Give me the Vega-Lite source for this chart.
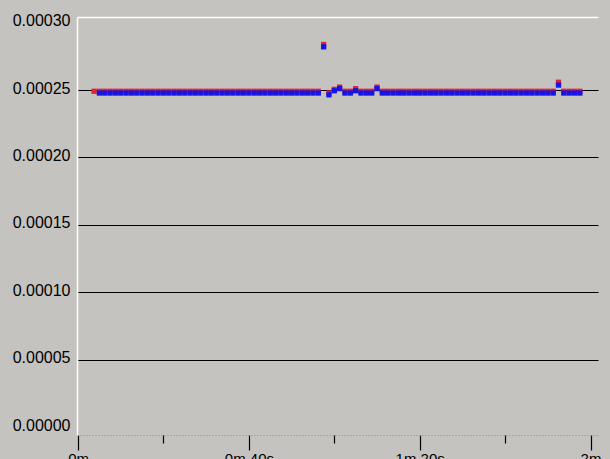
{
  "$schema": "https://vega.github.io/schema/vega-lite/v6.json",
  "width": 521,
  "height": 418,
  "autosize": {"type": "none"},
  "padding": {"left": 77, "top": 17, "right": 12, "bottom": 24},
  "background": "#c4c3bf",
  "config": {"view": {"stroke": null}, "font": "Liberation Sans"},
  "data": {"values": [
    {"t": 3.75, "red": 0.0002491, "blue": null},
    {"t": 5, "red": 0.0002491, "blue": 0.0002478},
    {"t": 6.25, "red": 0.0002491, "blue": 0.0002478},
    {"t": 7.5, "red": 0.0002491, "blue": 0.0002478},
    {"t": 8.75, "red": 0.0002491, "blue": 0.0002478},
    {"t": 10, "red": 0.0002491, "blue": 0.0002478},
    {"t": 11.25, "red": 0.0002491, "blue": 0.0002478},
    {"t": 12.5, "red": 0.0002491, "blue": 0.0002478},
    {"t": 13.75, "red": 0.0002491, "blue": 0.0002478},
    {"t": 15, "red": 0.0002491, "blue": 0.0002478},
    {"t": 16.25, "red": 0.0002491, "blue": 0.0002478},
    {"t": 17.5, "red": 0.0002491, "blue": 0.0002478},
    {"t": 18.75, "red": 0.0002491, "blue": 0.0002478},
    {"t": 20, "red": 0.0002491, "blue": 0.0002478},
    {"t": 21.25, "red": 0.0002491, "blue": 0.0002478},
    {"t": 22.5, "red": 0.0002491, "blue": 0.0002478},
    {"t": 23.75, "red": 0.0002491, "blue": 0.0002478},
    {"t": 25, "red": 0.0002491, "blue": 0.0002478},
    {"t": 26.25, "red": 0.0002491, "blue": 0.0002478},
    {"t": 27.5, "red": 0.0002491, "blue": 0.0002478},
    {"t": 28.75, "red": 0.0002491, "blue": 0.0002478},
    {"t": 30, "red": 0.0002491, "blue": 0.0002478},
    {"t": 31.25, "red": 0.0002491, "blue": 0.0002478},
    {"t": 32.5, "red": 0.0002491, "blue": 0.0002478},
    {"t": 33.75, "red": 0.0002491, "blue": 0.0002478},
    {"t": 35, "red": 0.0002491, "blue": 0.0002478},
    {"t": 36.25, "red": 0.0002491, "blue": 0.0002478},
    {"t": 37.5, "red": 0.0002491, "blue": 0.0002478},
    {"t": 38.75, "red": 0.0002491, "blue": 0.0002478},
    {"t": 40, "red": 0.0002491, "blue": 0.0002478},
    {"t": 41.25, "red": 0.0002491, "blue": 0.0002478},
    {"t": 42.5, "red": 0.0002491, "blue": 0.0002478},
    {"t": 43.75, "red": 0.0002491, "blue": 0.0002478},
    {"t": 45, "red": 0.0002491, "blue": 0.0002478},
    {"t": 46.25, "red": 0.0002491, "blue": 0.0002478},
    {"t": 47.5, "red": 0.0002491, "blue": 0.0002478},
    {"t": 48.75, "red": 0.0002491, "blue": 0.0002478},
    {"t": 50, "red": 0.0002491, "blue": 0.0002478},
    {"t": 51.25, "red": 0.0002491, "blue": 0.0002478},
    {"t": 52.5, "red": 0.0002491, "blue": 0.0002478},
    {"t": 53.75, "red": 0.0002491, "blue": 0.0002478},
    {"t": 55, "red": 0.0002491, "blue": 0.0002478},
    {"t": 56.25, "red": 0.0002491, "blue": 0.0002478},
    {"t": 57.5, "red": 0.0002838, "blue": 0.0002821},
    {"t": 58.75, "red": 0.0002478, "blue": 0.0002465},
    {"t": 60, "red": 0.0002505, "blue": 0.0002495},
    {"t": 61.25, "red": 0.0002522, "blue": 0.0002511},
    {"t": 62.5, "red": 0.0002491, "blue": 0.0002478},
    {"t": 63.75, "red": 0.0002491, "blue": 0.0002478},
    {"t": 65, "red": 0.000251, "blue": 0.0002495},
    {"t": 66.25, "red": 0.0002491, "blue": 0.0002478},
    {"t": 67.5, "red": 0.0002491, "blue": 0.0002478},
    {"t": 68.75, "red": 0.0002491, "blue": 0.0002478},
    {"t": 70, "red": 0.0002522, "blue": 0.0002511},
    {"t": 71.25, "red": 0.0002491, "blue": 0.0002478},
    {"t": 72.5, "red": 0.0002491, "blue": 0.0002478},
    {"t": 73.75, "red": 0.0002491, "blue": 0.0002478},
    {"t": 75, "red": 0.0002491, "blue": 0.0002478},
    {"t": 76.25, "red": 0.0002491, "blue": 0.0002478},
    {"t": 77.5, "red": 0.0002491, "blue": 0.0002478},
    {"t": 78.75, "red": 0.0002491, "blue": 0.0002478},
    {"t": 80, "red": 0.0002491, "blue": 0.0002478},
    {"t": 81.25, "red": 0.0002491, "blue": 0.0002478},
    {"t": 82.5, "red": 0.0002491, "blue": 0.0002478},
    {"t": 83.75, "red": 0.0002491, "blue": 0.0002478},
    {"t": 85, "red": 0.0002491, "blue": 0.0002478},
    {"t": 86.25, "red": 0.0002491, "blue": 0.0002478},
    {"t": 87.5, "red": 0.0002491, "blue": 0.0002478},
    {"t": 88.75, "red": 0.0002491, "blue": 0.0002478},
    {"t": 90, "red": 0.0002491, "blue": 0.0002478},
    {"t": 91.25, "red": 0.0002491, "blue": 0.0002478},
    {"t": 92.5, "red": 0.0002491, "blue": 0.0002478},
    {"t": 93.75, "red": 0.0002491, "blue": 0.0002478},
    {"t": 95, "red": 0.0002491, "blue": 0.0002478},
    {"t": 96.25, "red": 0.0002491, "blue": 0.0002478},
    {"t": 97.5, "red": 0.0002491, "blue": 0.0002478},
    {"t": 98.75, "red": 0.0002491, "blue": 0.0002478},
    {"t": 100, "red": 0.0002491, "blue": 0.0002478},
    {"t": 101.25, "red": 0.0002491, "blue": 0.0002478},
    {"t": 102.5, "red": 0.0002491, "blue": 0.0002478},
    {"t": 103.75, "red": 0.0002491, "blue": 0.0002478},
    {"t": 105, "red": 0.0002491, "blue": 0.0002478},
    {"t": 106.25, "red": 0.0002491, "blue": 0.0002478},
    {"t": 107.5, "red": 0.0002491, "blue": 0.0002478},
    {"t": 108.75, "red": 0.0002491, "blue": 0.0002478},
    {"t": 110, "red": 0.0002491, "blue": 0.0002478},
    {"t": 111.25, "red": 0.0002491, "blue": 0.0002478},
    {"t": 112.5, "red": 0.0002558, "blue": 0.0002537},
    {"t": 113.75, "red": 0.0002491, "blue": 0.0002478},
    {"t": 115, "red": 0.0002491, "blue": 0.0002478},
    {"t": 116.25, "red": 0.0002491, "blue": 0.0002478},
    {"t": 117.5, "red": 0.0002491, "blue": 0.0002478}
  ]},
  "layer": [
    {
      "mark": {"type": "point", "shape": "square", "filled": true, "size": 28, "opacity": 1, "color": "#e8202a"},
      "encoding": {
        "x": {"field": "t", "type": "quantitative",
          "scale": {"domain": [-0.25, 121.75], "nice": false, "zero": false},
          "axis": {"orient": "top", "labels": false, "ticks": false, "grid": false, "domainColor": "#ffffff", "domainWidth": 1.5, "title": null}},
        "y": {"field": "red", "type": "quantitative",
          "scale": {"domain": [-0.0000059, 0.0003042], "nice": false, "zero": false},
          "axis": {"orient": "left", "values": [0, 0.00005, 0.0001, 0.00015, 0.0002, 0.00025, 0.0003], "format": ".5f", "title": null,
            "ticks": false, "domainColor": "#ffffff", "domainWidth": 1.5, "labelFontSize": 16, "labelColor": "#000000", "labelPadding": 7, "labelOffset": -2,
            "grid": true, "gridColor": "#000000", "gridWidth": 1.2,
            "gridOpacity": {"condition": {"test": "datum.value > 0.00001 && datum.value < 0.00029", "value": 1}, "value": 0}}}
      }
    },
    {
      "mark": {"type": "point", "shape": "square", "filled": true, "size": 28, "opacity": 1, "color": "#1414e6"},
      "encoding": {
        "x": {"field": "t", "type": "quantitative",
          "axis": {"orient": "bottom", "values": [0, 20, 40, 60, 80, 100, 120], "title": null, "grid": false,
            "labelExpr": "datum.value == 0 ? '0m' : datum.value == 40 ? '0m 40s' : datum.value == 80 ? '1m 20s' : datum.value == 120 ? '2m' : ''",
            "tickSize": {"condition": {"test": "datum.value % 40 == 0", "value": 15}, "value": 8},
            "tickColor": "#000000", "tickWidth": 1.2, "labelFontSize": 15, "labelColor": "#000000", "labelBaseline": "top", "labelPadding": 1,
            "labelFlush": false, "labelOverlap": false,
            "domainColor": "#8a8a8a", "domainDash": [1, 2]}},
        "y": {"field": "blue", "type": "quantitative", "axis": {"title": null}}
      }
    }
  ],
  "resolve": {"axis": {"x": "independent"}}
}
